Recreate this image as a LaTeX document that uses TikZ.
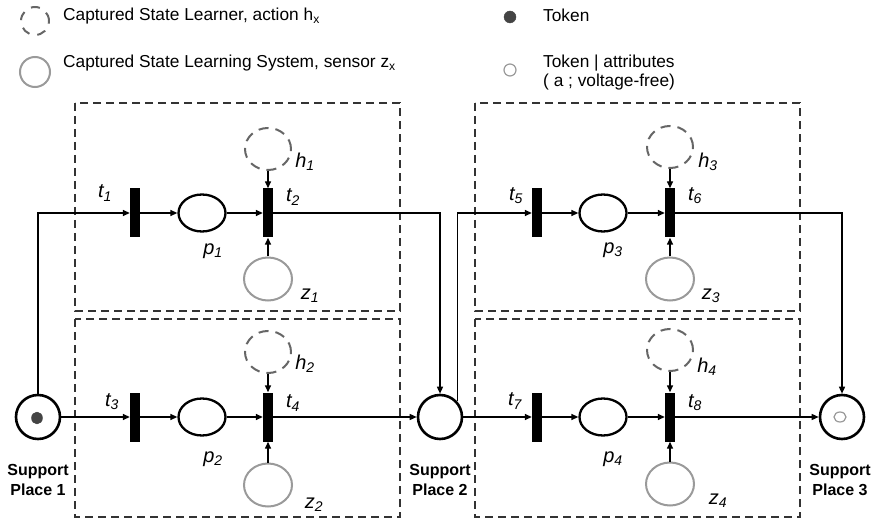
\documentclass[tikz,border=0pt]{standalone}
\usepackage{fontspec}
\setmainfont{Liberation Sans}
\usetikzlibrary{arrows.meta,shapes.geometric}
\definecolor{boxgray}{HTML}{333333}
\definecolor{hgray}{HTML}{666666}
\definecolor{zgray}{HTML}{9A9A9A}
\definecolor{tokgray}{HTML}{444444}
\begin{document}
\begin{tikzpicture}[x=1pt,y=-1pt,
  bar/.style={rectangle,draw=none,fill=black,minimum width=10pt,minimum height=49pt,inner sep=0pt},
  pl/.style={ellipse,draw=black,line width=2.3pt,minimum width=47pt,minimum height=37pt,inner sep=0pt},
  sp/.style={circle,draw=black,line width=2.6pt,minimum size=44pt,inner sep=0pt},
  hc/.style={ellipse,draw=hgray,line width=2pt,dash pattern=on 10pt off 7pt,minimum width=46pt,minimum height=42pt,inner sep=0pt},
  zc/.style={ellipse,draw=zgray,line width=2pt,minimum width=48pt,minimum height=43pt,inner sep=0pt},
  arr/.style={-{Triangle[length=7pt,width=6pt]},line width=1.4pt},
  boxline/.style={draw=boxgray,line width=1.6pt,dash pattern=on 8pt off 5pt},
  lbl/.style={font=\fontsize{20}{22}\selectfont\itshape,inner sep=0pt},
  spl/.style={font=\fontsize{16}{20}\selectfont\bfseries,align=center,inner sep=0pt},
  leg/.style={font=\fontsize{17.3}{20}\selectfont,anchor=base west,inner sep=0pt},
  tok/.style={circle,fill=tokgray,draw=tokgray,minimum size=11pt,inner sep=0pt},
  htok/.style={circle,draw=zgray,line width=1.2pt,fill=white,minimum size=12pt,inner sep=0pt}
]
\path[use as bounding box] (0,0) rectangle (878,521);

% legend
\node[hc,minimum width=28pt,minimum height=28pt,dash pattern=on 9pt off 8pt] (lgh) at (35,21) {};
\node[leg] (lgtxt1) at (63,21) {Captured State Learner, action h\textsubscript{x}};
\node[zc,minimum width=30pt,minimum height=30pt] (lgz) at (35,72) {};
\node[leg] (lgtxt2) at (63,68) {Captured State Learning System, sensor z\textsubscript{x}};
\node[tok,minimum size=12pt] (lgtok) at (510,17) {};
\node[leg] (lgtxt3) at (543,22) {Token};
\node[htok] (lghtok) at (510,70) {};
\node[leg] (lgtxt4) at (543,68) {Token | attributes};
\node[leg] (lgtxt5) at (543,87) {( a ; voltage-free)};

% boxes
\draw[boxline] (75,103) rectangle (400,311);
\draw[boxline] (75,319) rectangle (400,517);
\draw[boxline] (475,103) rectangle (800,311);
\draw[boxline] (475,319) rectangle (800,517);

% support places
\node[sp] (s1) at (38,417) {};
\node[tok,ellipse,minimum width=11pt,minimum height=12pt] (s1tok) at (37,418) {};
\node[sp] (s2) at (440,417) {};
\node[sp] (s3) at (842,417) {};
\node[htok,minimum width=12pt,minimum height=10pt,ellipse] (s3tok) at (840,417) {};
\node[spl] (ls1) at (38,480) {Support\\Place 1};
\node[spl] (ls2) at (440,480) {Support\\Place 2};
\node[spl] (ls3) at (840,480) {Support\\Place 3};

% block 1
\node[bar] (t1) at (135,213) {};
\node[pl] (p1) at (202,213) {};
\node[bar] (t2) at (268,213) {};
\node[hc] (h1) at (268,149) {};
\node[zc] (z1) at (268,279) {};
% block 2
\node[bar] (t3) at (135,417) {};
\node[pl] (p2) at (202,417) {};
\node[bar] (t4) at (268,417) {};
\node[hc] (h2) at (268,352) {};
\node[zc] (z2) at (268,485) {};
% block 3
\node[bar] (t5) at (537,213) {};
\node[pl] (p3) at (603,213) {};
\node[bar] (t6) at (670,213) {};
\node[hc] (h3) at (670,147) {};
\node[zc] (z3) at (670,279) {};
% block 4
\node[bar] (t7) at (537,417) {};
\node[pl] (p4) at (603,417) {};
\node[bar] (t8) at (670,417) {};
\node[hc] (h4) at (670,350) {};
\node[zc] (z4) at (670,484) {};

% labels
\node[lbl] (lt1) at (105,193) {t\textsubscript{1}};
\node[lbl] (lt2) at (293,197) {t\textsubscript{2}};
\node[lbl] (lp1) at (213,251) {p\textsubscript{1}};
\node[lbl] (lh1) at (305,162) {h\textsubscript{1}};
\node[lbl] (lz1) at (310,296) {z\textsubscript{1}};
\node[lbl] (lt3) at (112,402) {t\textsubscript{3}};
\node[lbl] (lt4) at (293,403) {t\textsubscript{4}};
\node[lbl] (lp2) at (213,459) {p\textsubscript{2}};
\node[lbl] (lh2) at (305,364) {h\textsubscript{2}};
\node[lbl] (lz2) at (314,505) {z\textsubscript{2}};
\node[lbl] (lt5) at (516,196) {t\textsubscript{5}};
\node[lbl] (lt6) at (695,196) {t\textsubscript{6}};
\node[lbl] (lp3) at (613,250) {p\textsubscript{3}};
\node[lbl] (lh3) at (708,162) {h\textsubscript{3}};
\node[lbl] (lz3) at (711,296) {z\textsubscript{3}};
\node[lbl] (lt7) at (515,401) {t\textsubscript{7}};
\node[lbl] (lt8) at (695,403) {t\textsubscript{8}};
\node[lbl] (lp4) at (613,459) {p\textsubscript{4}};
\node[lbl] (lh4) at (707,367) {h\textsubscript{4}};
\node[lbl] (lz4) at (718,501) {z\textsubscript{4}};

% connectors
\draw[arr] (s1) |- (t1);
\draw[arr] (t1) -- (p1);
\draw[arr] (p1) -- (t2);
\draw[arr] (h1) -- (t2);
\draw[arr] (z1) -- (t2);
\draw[arr] (t2) -| (s2);
\draw[arr] (s1) -- (t3);
\draw[arr] (t3) -- (p2);
\draw[arr] (p2) -- (t4);
\draw[arr] (h2) -- (t4);
\draw[arr] (z2) -- (t4);
\draw[arr] (t4) -- (s2);
\draw[arr] (s2.42) |- (t5);
\draw[arr] (t5) -- (p3);
\draw[arr] (p3) -- (t6);
\draw[arr] (h3) -- (t6);
\draw[arr] (z3) -- (t6);
\draw[arr] (t6) -| (s3);
\draw[arr] (s2) -- (t7);
\draw[arr] (t7) -- (p4);
\draw[arr] (p4) -- (t8);
\draw[arr] (h4) -- (t8);
\draw[arr] (z4) -- (t8);
\draw[arr] (t8) -- (s3);
\end{tikzpicture}
\end{document}
